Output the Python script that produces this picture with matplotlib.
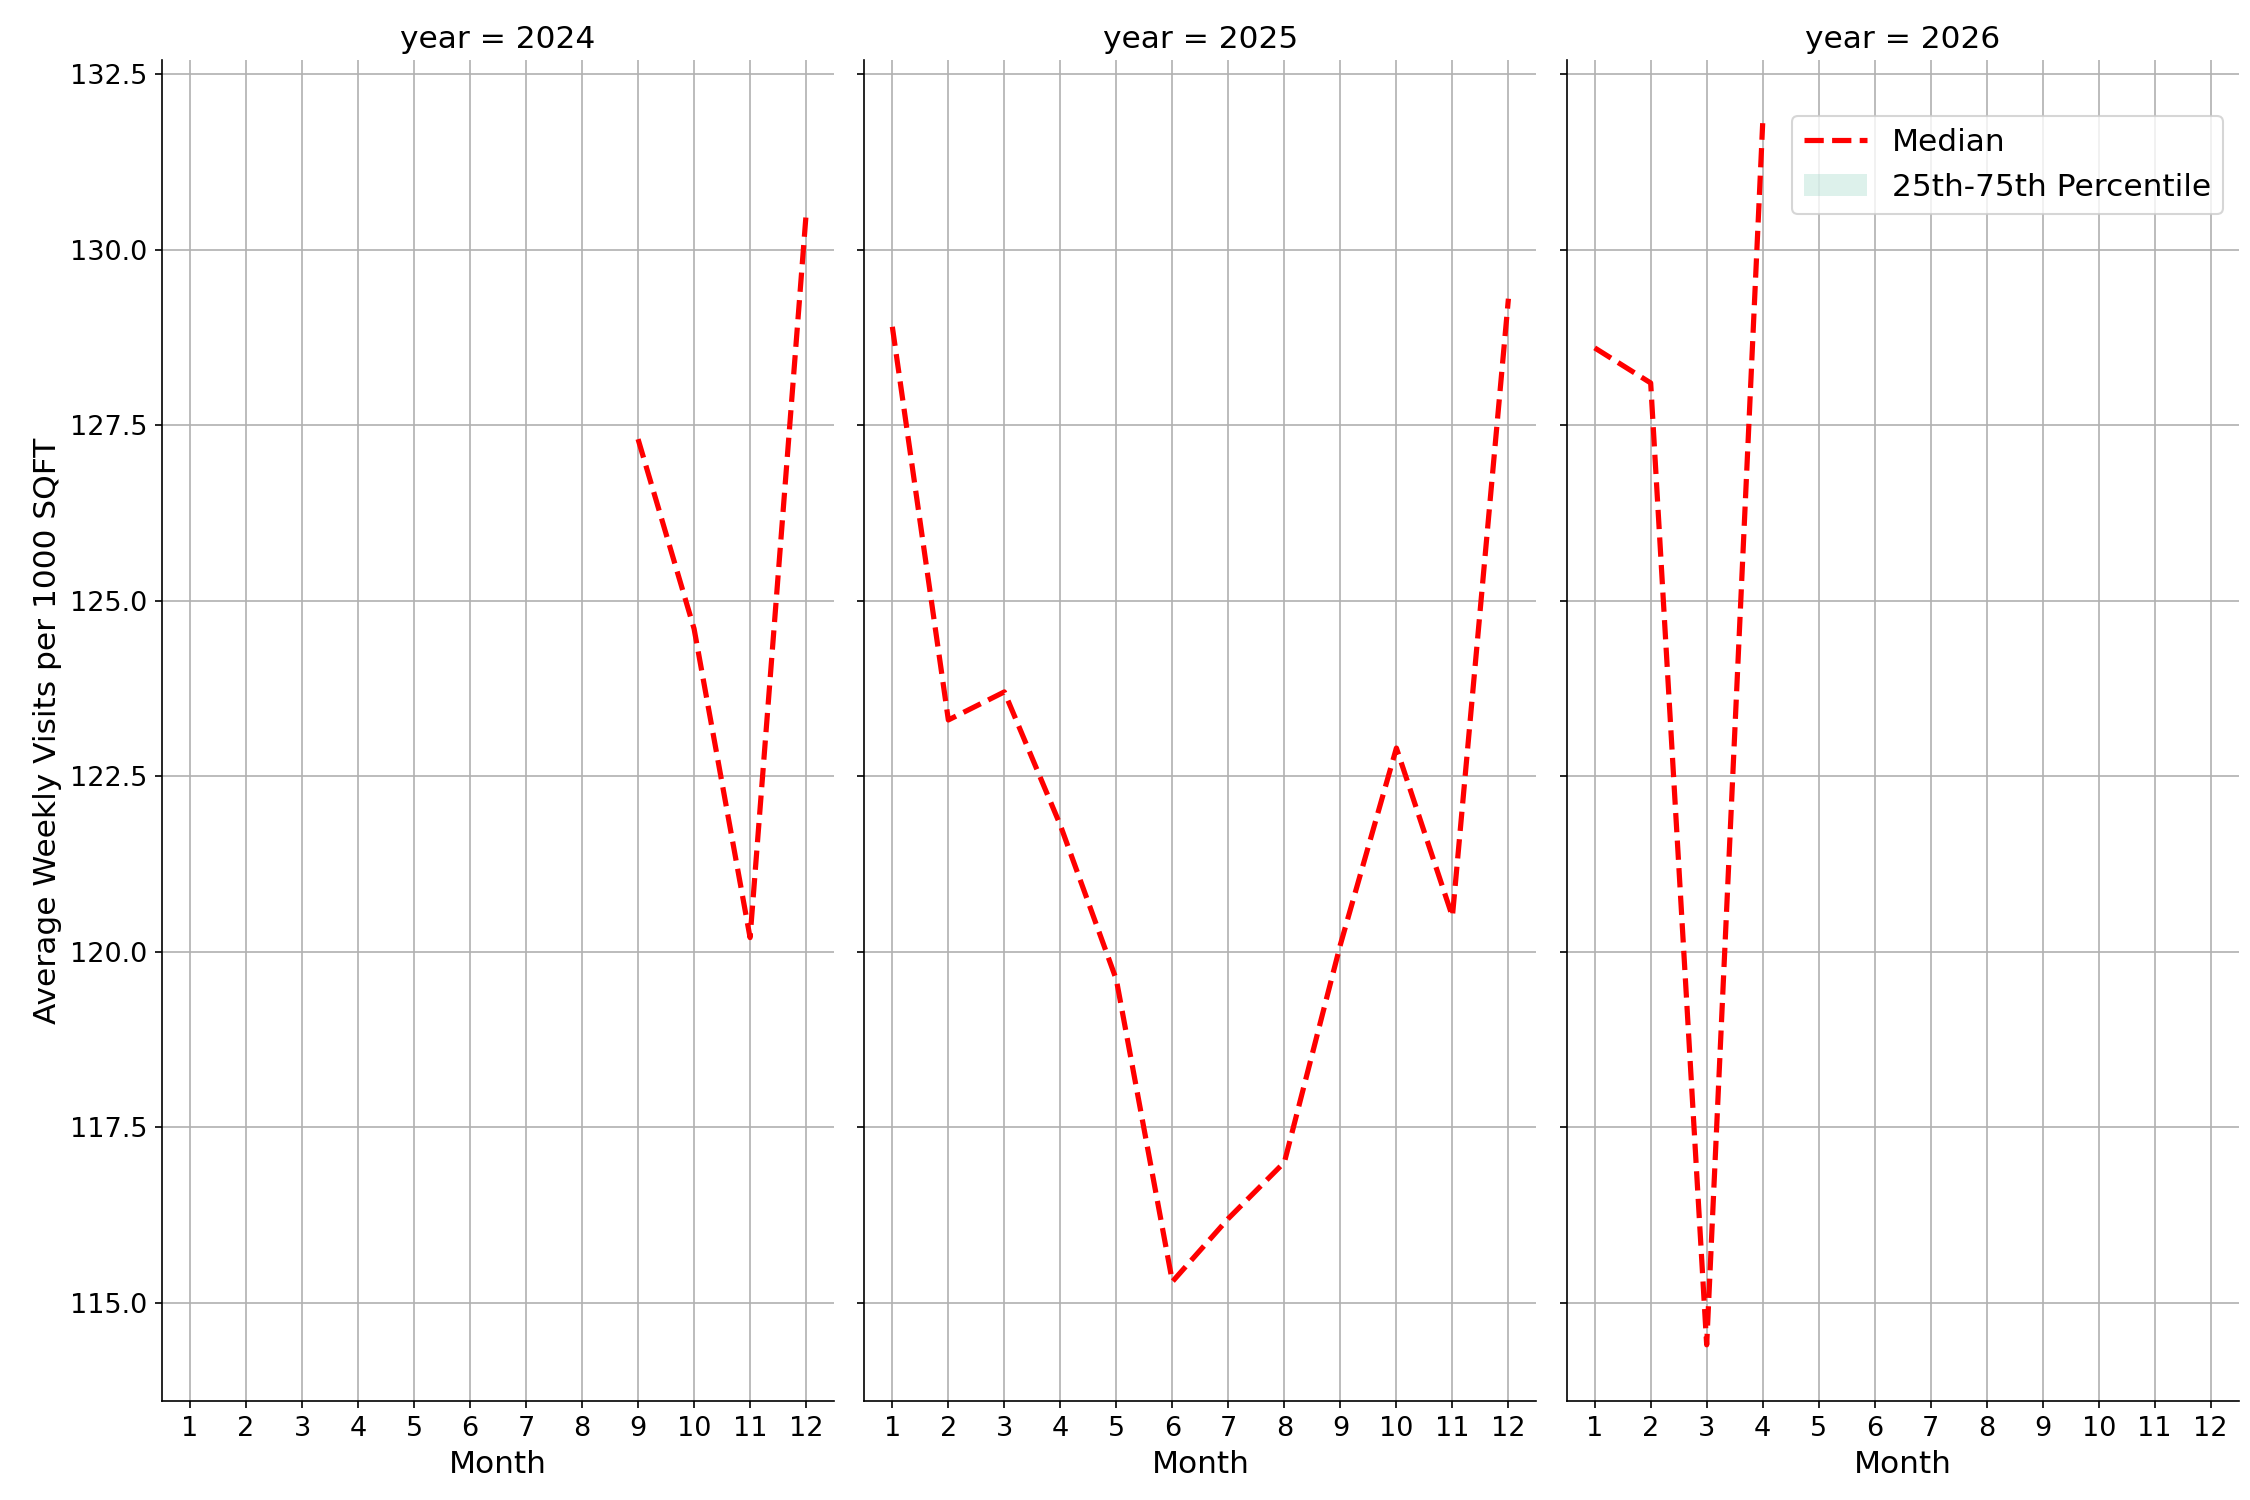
import numpy as np
import matplotlib.pyplot as plt
from matplotlib.patches import Patch
from matplotlib.lines import Line2D

years = [2024, 2025, 2026]
months_2024 = [9, 10, 11, 12]
median_2024 = [127.3, 124.6, 120.2, 130.5]
months_2025 = list(range(1, 13))
median_2025 = [128.9, 123.3, 123.7, 121.8, 119.6, 115.3, 116.2, 117.0, 120.1, 122.9, 120.5, 129.3]
months_2026 = [1, 2, 3, 4]
median_2026 = [128.6, 128.1, 114.4, 131.8]

months = [months_2024, months_2025, months_2026]
medians = [median_2024, median_2025, median_2026]

fig, axes = plt.subplots(1, 3, figsize=(15, 10), dpi=150, sharey=True)
fig.subplots_adjust(left=0.072, right=0.995, top=0.96, bottom=0.066, wspace=0.045)

for ax, yr, m, v in zip(axes, years, months, medians):
    ax.plot(m, v, color='red', linestyle='--', linewidth=2.5)
    ax.set_title('year = %d' % yr, fontsize=15)
    ax.set_xticks(range(1, 13))
    ax.set_xlim(0.5, 12.5)
    ax.set_ylim(113.6, 132.7)
    ax.grid(True, color='#b0b0b0')
    ax.set_axisbelow(True)
    ax.set_xlabel('Month', fontsize=15)
    ax.tick_params(labelsize=13)
    ax.spines['top'].set_visible(False)
    ax.spines['right'].set_visible(False)

axes[0].set_ylabel('Average Weekly Visits per 1000 SQFT', fontsize=15)

handles = [Line2D([0], [0], color='red', linestyle='--', linewidth=2.5),
           Patch(facecolor='#8fd1c0', alpha=0.3)]
axes[2].legend(handles, ['Median', '25th-75th Percentile'], fontsize=15,
               loc='upper right', bbox_to_anchor=(1.0, 0.97))

plt.savefig('out.png')
